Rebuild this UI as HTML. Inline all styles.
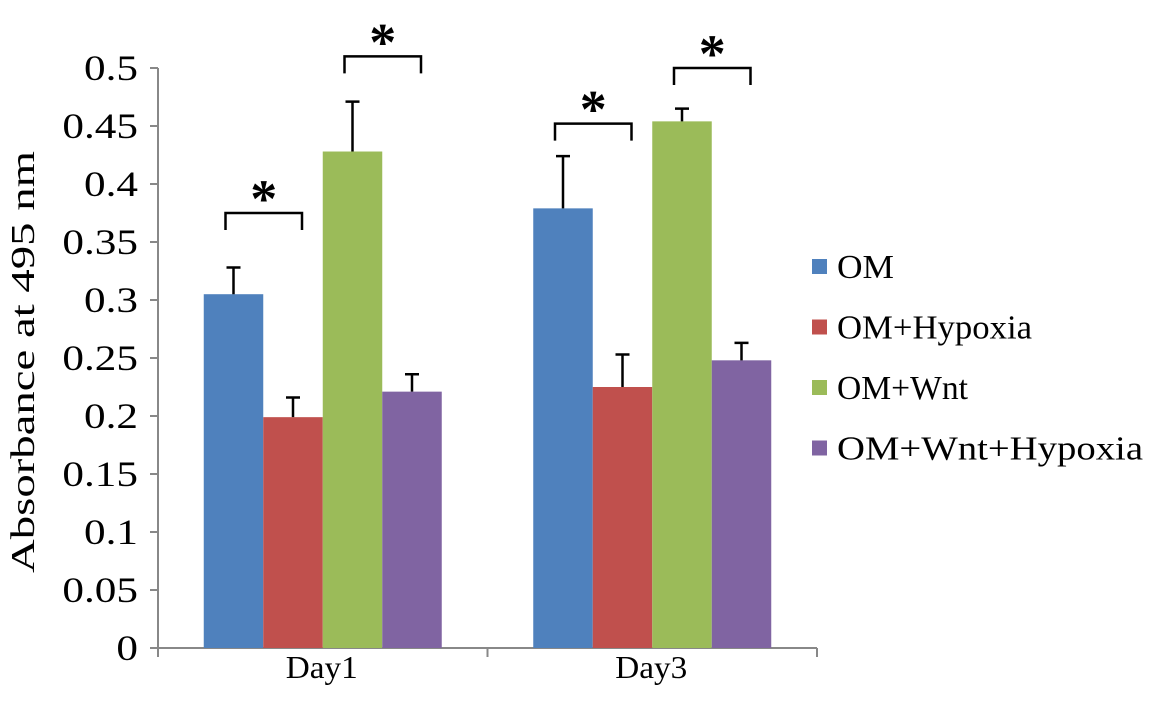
<!DOCTYPE html>
<html><head><meta charset="utf-8"><style>
body{margin:0;background:#fff}
svg text{font-family:"Liberation Serif",serif;fill:#000}
</style></head><body>
<svg id="chart" width="1159" height="723" xmlns="http://www.w3.org/2000/svg"></svg>
<script>
const categories=["Day1","Day3"];
const seriesNames=["OM","OM+Hypoxia","OM+Wnt","OM+Wnt+Hypoxia"];
const seriesColors=["#4f81bd","#c0504d","#9bbb59","#8064a2"];
const valuesOM=[0.305,0.379];
const valuesHyp=[0.199,0.225];
const valuesWnt=[0.428,0.454];
const valuesWntHyp=[0.221,0.248];
const errOM=[0.023,0.045];
const errHyp=[0.017,0.028];
const errWnt=[0.043,0.011];
const errWntHyp=[0.015,0.015];
const yTicks=[0,0.05,0.1,0.15,0.2,0.25,0.3,0.35,0.4,0.45,0.5];
const yTickLabels=["0","0.05","0.1","0.15","0.2","0.25","0.3","0.35","0.4","0.45","0.5"];
const sigPairs=[[0,0,1],[0,2,3],[1,0,1],[1,2,3]];
const sigHeights=[0.375,0.51,0.452,0.5];

const svg=document.getElementById('chart');
const NS="http://www.w3.org/2000/svg";
function mk(t,a,p){const e=document.createElementNS(NS,t);for(const k in a)e.setAttribute(k,a[k]);(p||svg).appendChild(e);return e;}
const X0=158,X1=817,Y0=648,YS=1160;
const y=v=>Y0-v*YS;
const catW=(X1-X0)/categories.length;
const barW=59.5;
const barX=(c,s)=>X0+c*catW+(catW-4*barW)/2+s*barW;
const allVals=[valuesOM,valuesHyp,valuesWnt,valuesWntHyp];
const allErr=[errOM,errHyp,errWnt,errWntHyp];

const ax=mk('line',{x1:X0,y1:y(0.5),x2:X0,y2:Y0,stroke:'#888','stroke-width':2});


const xa=mk('line',{x1:X0,y1:Y0,x2:X1,y2:Y0,stroke:'#888','stroke-width':2});


yTicks.forEach((t,i)=>{
  mk('line',{x1:X0-8,y1:y(t),x2:X0,y2:y(t),stroke:'#888','stroke-width':2});
  const tx=mk('text',{x:138,y:y(t)+12,'text-anchor':'end','font-size':36});
  tx.setAttribute('transform',`translate(138,0) scale(1.2,1) translate(-138,0)`);
  tx.textContent=yTickLabels[i];
  
  
});
for(let c=0;c<=categories.length;c++){
  mk('line',{x1:X0+c*catW,y1:Y0,x2:X0+c*catW,y2:Y0+9,stroke:'#888','stroke-width':2});
}
categories.forEach((c,i)=>{
  const tx=mk('text',{x:X0+catW*(i+0.5)-1,y:678,'text-anchor':'middle','font-size':32,textLength:72,lengthAdjust:'spacingAndGlyphs'});
  tx.textContent=c;
  
  
});
const yt=mk('text',{x:0,y:0,'text-anchor':'middle','font-size':34,textLength:422,lengthAdjust:'spacingAndGlyphs',transform:'translate(34,362) rotate(-90)'});
yt.textContent="Absorbance at 495 nm";



allVals.forEach((vals,s)=>{
  vals.forEach((v,c)=>{
    const bx=barX(c,s);
    const r=mk('rect',{x:bx,y:y(v),width:barW,height:Y0-y(v),fill:seriesColors[s]});
    
    
    const cx=bx+barW/2, top=y(v+allErr[s][c]);
    const e=mk('path',{d:`M${cx},${y(v)}V${top}M${cx-7},${top}H${cx+7}`,stroke:'#000','stroke-width':2.5,fill:'none'});
    
    
  });
});

sigPairs.forEach((p,i)=>{
  const [c,a,b]=p;
  const xa=barX(c,a)+barW/2-8, xb=barX(c,b)+barW/2+9, yy=y(sigHeights[i]);
  const g=mk('path',{d:`M${xa},${yy+17}V${yy}H${xb}V${yy+17}`,stroke:'#000','stroke-width':2.5,fill:'none'});
  
  
  const st=mk('text',{x:(xa+xb)/2,y:yy+4,'text-anchor':'middle','font-size':54,'font-weight':'bold','font-family':'Liberation Sans'});
  st.textContent="*";
  
  
});

seriesNames.forEach((n,i)=>{
  const ly=267+i*60.5;
  const r=mk('rect',{x:812,y:ly-8,width:15,height:15,fill:seriesColors[i]});
  
  
  const t=mk('text',{x:837,y:ly+11,'font-size':34,textLength:[57,195,131,306][i],lengthAdjust:'spacingAndGlyphs'});
  t.textContent=n;
  
  
});
</script>
</body></html>
